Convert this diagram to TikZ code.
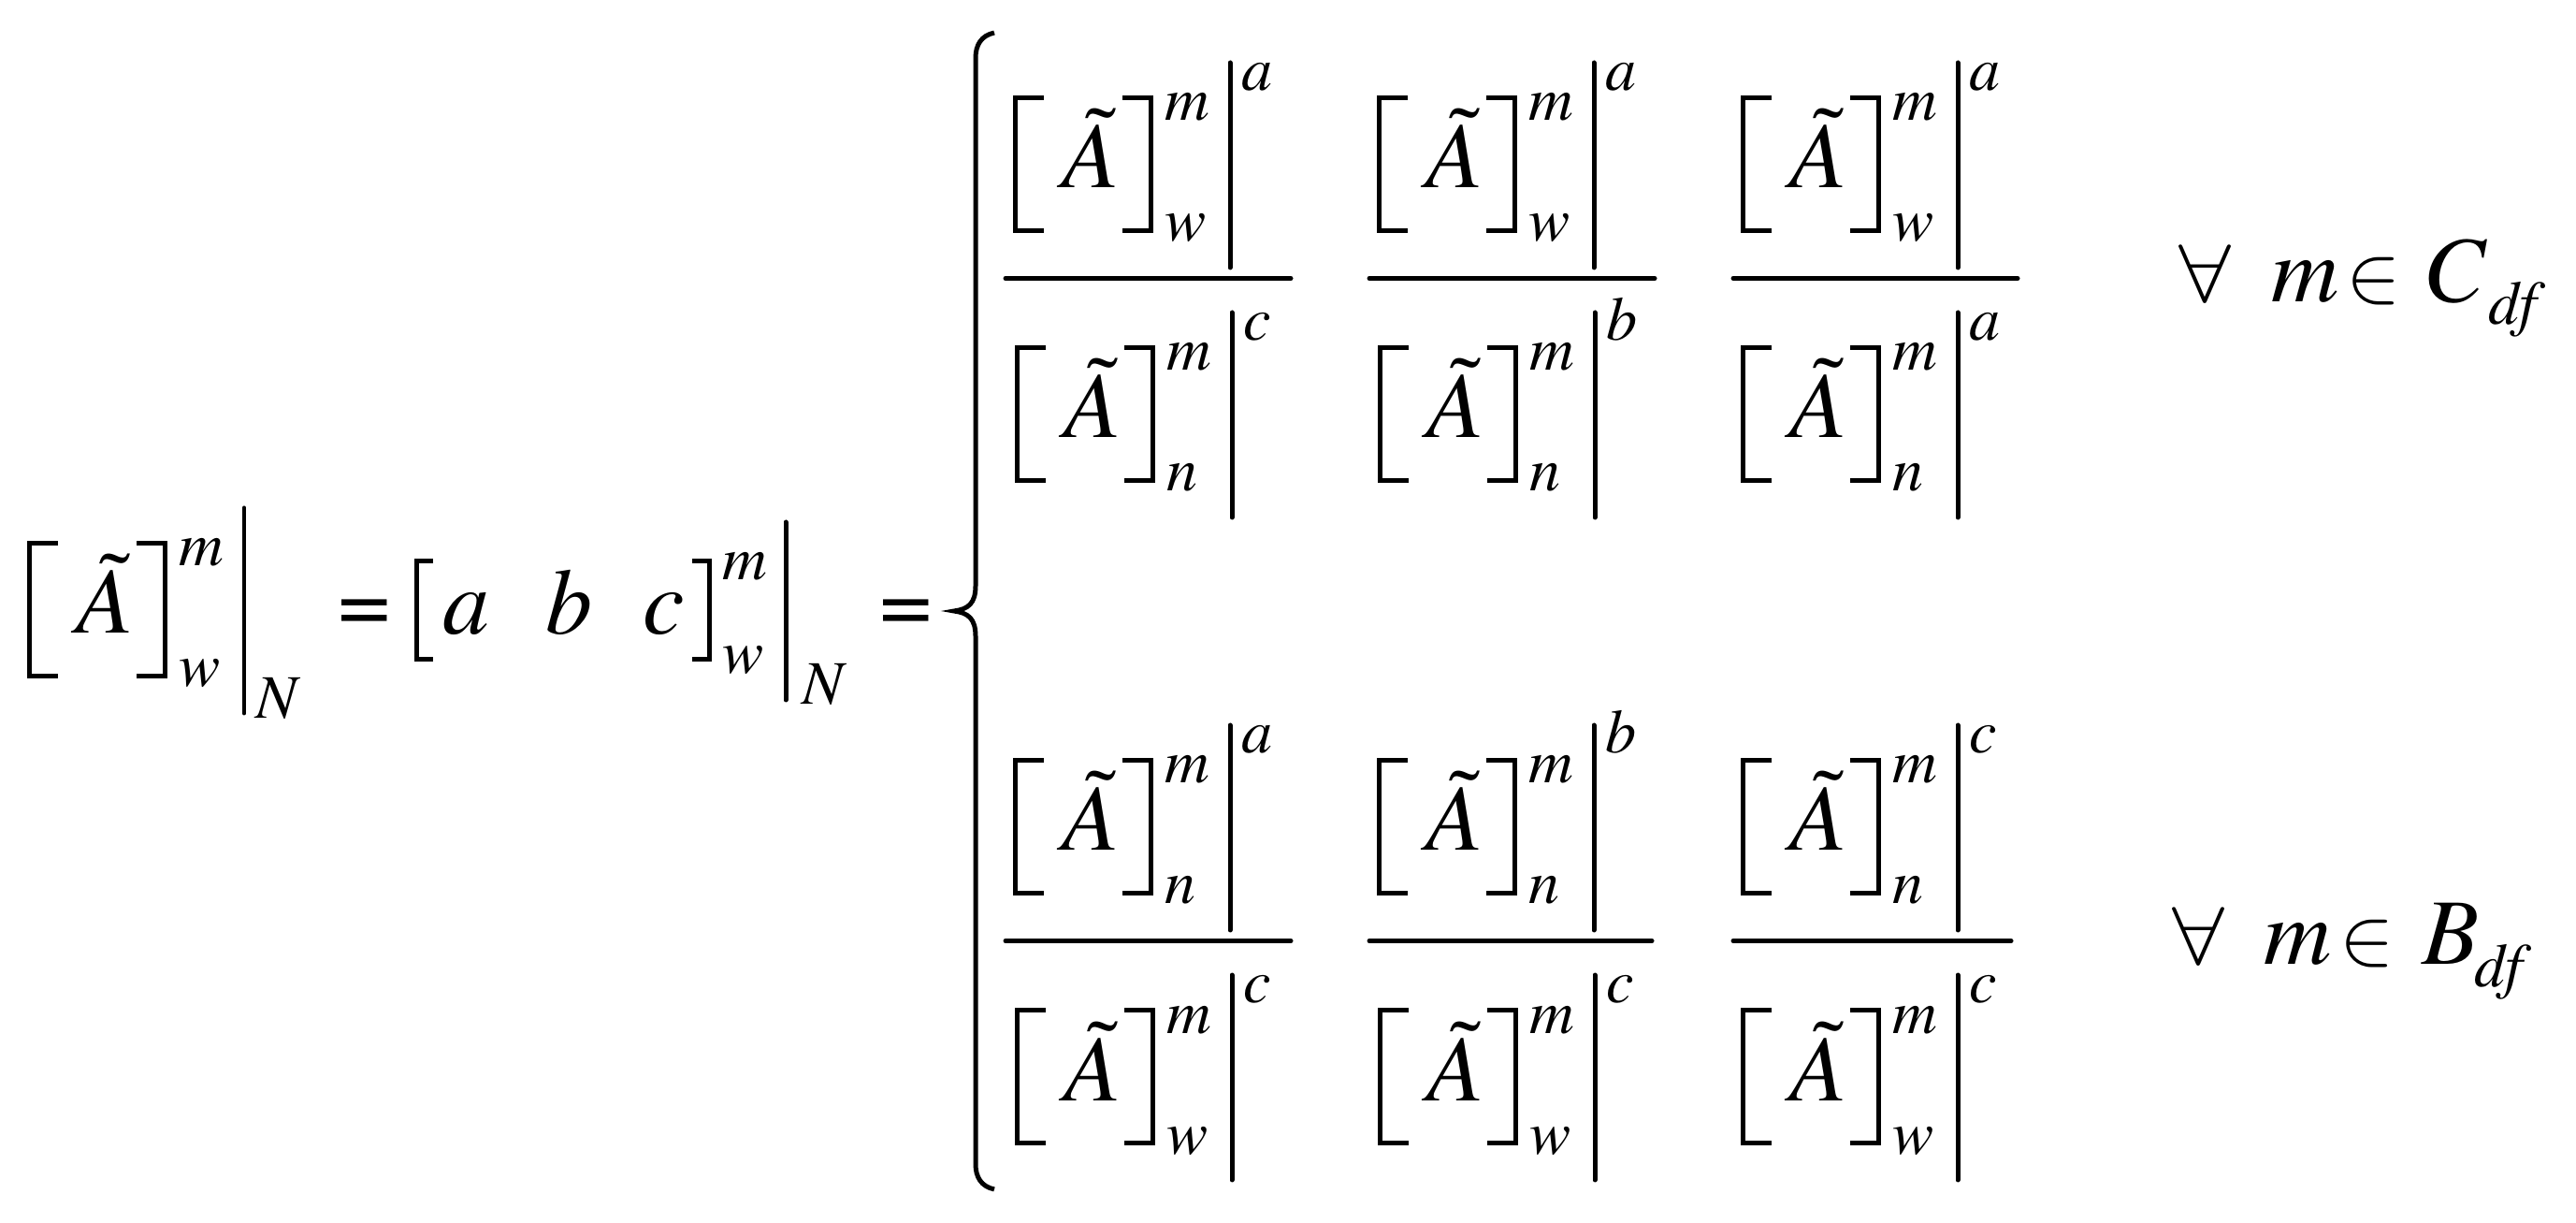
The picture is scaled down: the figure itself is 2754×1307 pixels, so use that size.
\documentclass[tikz,border=0pt]{standalone}
\usepackage{fontspec}
\IfFontExistsTF{texgyretermes-regular.otf}
  {\setmainfont{texgyretermes}[Extension=.otf,UprightFont=*-regular,ItalicFont=*-italic,
     BoldFont=*-bold,BoldItalicFont=*-bolditalic]}
  {\setmainfont{Liberation Serif}[ItalicFont={Liberation Serif},ItalicFeatures={FakeSlant=0.2}]}
\tikzstyle{bigtxt}=[anchor=base west,inner sep=0pt,font=\fontsize{28.45}{34}\selectfont\itshape]
\tikzstyle{smalltxt}=[anchor=base west,inner sep=0pt,font=\fontsize{18.8}{22}\selectfont\itshape]
\tikzstyle{signtxt}=[anchor=base west,inner sep=0pt,font=\fontsize{28.45}{34}\selectfont]
\tikzstyle{intxt}=[anchor=base west,inner sep=0pt,font=\fontsize{24}{28}\selectfont]
\tikzstyle{brk}=[line width=1.42pt,line join=miter]
\tikzstyle{vline}=[line width=1.42pt,line cap=round]

% [A~]^m_#4 |^#5 : #1 name, #2 left, #3 top, #6 baseline offset of #5
\newcommand{\brterm}[6]{%
  \draw[brk] (#2+33,#3+2.5) -- (#2+2.5,#3+2.5) -- (#2+2.5,#3+144.5) -- (#2+33,#3+144.5);
  \draw[brk] (#2+117,#3+2.5) -- (#2+147.5,#3+2.5) -- (#2+147.5,#3+144.5) -- (#2+117,#3+144.5);
  \node[bigtxt] (#1A) at (#2+52,#3+99) {\~A};
  \node[smalltxt] (#1m) at (#2+162,#3+27) {m};
  \node[smalltxt] (#1i) at (#2+162,#3+156) {#4};
  \draw[vline] (#2+232,#3-35) -- (#2+232,#3+184);
  \node[smalltxt] (#1e) at (#2+244,#3+#6) {#5};
}

\begin{document}
\begin{tikzpicture}[x=0.01cm,y=-0.01cm]
    \useasboundingbox (0,0) rectangle (2754,1307);
    % left side
    \brterm{lhs}{29}{578}{w}{N}{190}
    \node[signtxt] (eq1) at (361,678) {=};
    \draw[brk] (463,599.5) -- (445.5,599.5) -- (445.5,704.5) -- (463,704.5);
    \node[bigtxt] (va) at (473,678) {a};
    \node[bigtxt] (vb) at (583,678) {b};
    \node[bigtxt] (vc) at (687,678) {c};
    \draw[brk] (740,599.5) -- (758.5,599.5) -- (758.5,704.5) -- (740,704.5);
    \node[smalltxt] (vm) at (772,620) {m};
    \node[smalltxt] (vw) at (772,720) {w};
    \draw[vline] (840,558) -- (840,748);
    \node[smalltxt] (vN) at (857,753) {N};
    \node[signtxt] (eq2) at (940,678) {=};

    % brace
    \draw[line width=1.42pt] (1063,35) .. controls (1049,38) and (1043,48) .. (1043,62)
      -- (1043,626) .. controls (1043,645) and (1035,651) .. (1020,653)
      .. controls (1035,655) and (1043,661) .. (1043,680)
      -- (1043,1244) .. controls (1043,1258) and (1049,1268) .. (1063,1271);

    % first case
    \foreach \col/\L/\R/\dn/\dx in {1/1073/1382/c/12, 2/1462/1771/b/11, 3/1851/2159/a/10} {
      \brterm{t\col n}{\L+10}{102}{w}{a}{-5}
      \draw[vline] (\L+2,297.5) -- (\R-2,297.5);
      \brterm{t\col d}{\L+\dx}{369}{n}{\dn}{-5}
    }
    \node[signtxt,xscale=1.15] (tall) at (2329,323) {$\forall$};
    \node[bigtxt] (tm) at (2428,323) {m};
    \node[intxt] (tin) at (2508,323) {$\in$};
    \node[bigtxt] (tC) at (2590,323) {C};
    \node[smalltxt] (tdf) at (2660,347) {df};

    % second case
    \foreach \col/\L/\R/\up/\dx in {1/1073/1382/a/12, 2/1462/1768/b/11, 3/1851/2152/c/10} {
      \brterm{b\col n}{\L+10}{810}{n}{\up}{-5}
      \draw[vline] (\L+2,1005.5) -- (\R-2,1005.5);
      \brterm{b\col d}{\L+\dx}{1077}{w}{c}{-5}
    }
    \node[signtxt,xscale=1.15] (ball) at (2322,1031) {$\forall$};
    \node[bigtxt] (bm) at (2420,1031) {m};
    \node[intxt] (bin) at (2501,1031) {$\in$};
    \node[bigtxt] (bB) at (2589,1031) {B};
    \node[smalltxt] (bdf) at (2645,1055) {df};
\end{tikzpicture}
\end{document}
